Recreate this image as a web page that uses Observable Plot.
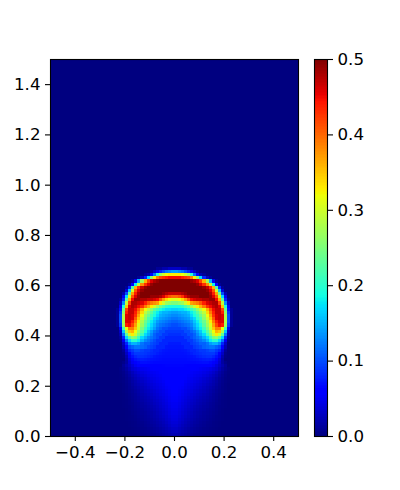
<!DOCTYPE html>
<html><head><meta charset="utf-8">
<script src="https://cdn.jsdelivr.net/npm/d3@7"></script>
<script src="https://cdn.jsdelivr.net/npm/@observablehq/plot@0.6"></script>
<style>
html,body{margin:0;padding:0;background:#fff;width:400px;height:490px;overflow:hidden}
#c{position:relative;width:400px;height:490px}
#c svg{position:absolute;left:0;top:0;background:transparent;overflow:visible}
</style></head><body><div id="c"></div>
<script>
const nx = 80, ny = 120;
const xTicks = [-0.4,-0.2,0,0.2,0.4];
const yTicks = [0,0.2,0.4,0.6,0.8,1.0,1.2,1.4];
const barTicks = [0,0.1,0.2,0.3,0.4,0.5];
// Value x 100, row index (bottom = 0), from the centre column outward (right half)
const rowsTop = [
/*r53*/[3,3,2,2,1,1],
/*r52*/[14,13,12,10,8,5,3,1],
/*r51*/[33,33,32,30,27,20,12,6,2,1],
/*r50*/[45,45,44,43,42,39,33,26,17,8,3,1],
/*r49*/[50,50,50,50,50,49,48,46,42,36,27,15,5,1],
/*r48*/[50,50,50,50,50,50,50,49,46,43,38,29,18,6,1],
/*r47*/[50,50,50,50,50,50,50,50,50,49,47,43,36,22,8,1],
/*r46*/[50,50,50,50,50,50,50,50,50,50,49,46,41,30,16,4],
/*r45*/[47,47,48,49,50,50,50,50,50,50,50,48,44,37,24,10,2],
/*r44*/[40,41,43,46,48,49,49,49,50,50,50,49,46,41,30,17,5],
/*r43*/[31,32,34,37,41,45,46,47,47,48,48,49,49,45,36,23,8,1],
/*r42*/[25,26,27,30,33,37,38,39,41,44,46,47,48,48,42,29,13,3],
/*r41*/[19,19,20,22,24,27,30,33,36,39,43,45,47,48,46,35,19,5],
/*r40*/[16.5,17,17,18,19,21,23,26,29,32,36,41,45,47,47,42,24,7,1],
/*r39*/[14,14.5,15,15,16,18,20,23,26,29,34,39,44,47,47,44,26,9,1],
/*r38*/[13,13.5,14,14.5,15,17,19,21,24,27,32,37,43,46,47,46,28,10,1],
/*r37*/[12,12.5,13,13.5,14,15.5,17,20,22,26,30,35,41,46,47,46,28,10,1],
/*r36*/[11,11.5,12,12.5,13,14,16,18,21,24,28,33,39,44,46,46,28,10,1],
/*r35*/[10,10.5,11,11.5,12,13,15,17,19,23,27,31,37,42,45,44,27,9,1],
/*r34*/[9.5,9.5,10,10,11,12,14,16,18,21,25,30,35,39,39,32,21,5],
/*r33*/[9,9,9,10,10,11,12,14,16,19,23,27,32,36,35,28,16,3],
/*r32*/[8.5,8.5,9,9,10,10,11,13,15,17,21,25,30,33,30,23,12,2],
/*r31*/[8,8,8,9,9,10,11,12,13,15,17,21,25,26,23,17,8,1],
/*r30*/[8,8,8,8,9,9,10,11,12,13,15,18,20,20,17,12,5,.5],
/*r29*/[7.5,7.5,8,8,8,9,9.5,10,11,11,12,14,15,15,13,8,3],
/*r28*/[7.3,7.3,7.4,8,8,8,9,9.5,10,11,11.5,12,12,11,10,6,2],
/*r27*/[7.1,7.1,7.2,7.3,7.6,8,8,8.5,9,9,9.5,10,10,9,8,4,1],
/*r26*/[7,7,7,7.1,7.3,7.6,8,8.2,8.5,8.8,9,9,9,8,6,3,.5],
/*r25*/[6.9,6.9,6.9,6.9,7,7.1,7.3,7.7,8,8.3,8.5,8.5,8,7,5,2,.3],
/*r24*/[6.7,6.7,6.7,6.7,6.8,6.9,7,7.1,7.3,7.5,7.6,7.5,7,6,4,1.5],
/*r23*/[6.6,6.6,6.6,6.6,6.6,6.6,6.6,6.7,6.8,6.9,6.9,6.6,6,5,3.5,1.5,.5],
/*r22*/[6.4,6.4,6.4,6.3,6.2,6.1,6,6,6,5.9,5.8,5.6,5,4,3,2,1],
/*r21*/[6.2,6.2,6.1,6,5.8,5.6,5.5,5.4,5.2,5,4.8,4.5,4,3.5,2.5,1.5,.8,.3],
/*r20*/[6.1,6,5.9,5.8,5.5,5.3,5.1,5,4.8,4.5,4.2,3.8,3.3,2.6,1.8,1.1,.5,.2],
/*r19*/[6,5.9,5.8,5.6,5.3,5.1,4.9,4.7,4.5,4.1,3.8,3.3,2.8,2.2,1.5,.9,.4,.1],
/*r18*/[5.9,5.8,5.6,5.4,5.1,4.9,4.6,4.4,4.1,3.7,3.3,2.9,2.4,1.8,1.2,.7,.3,.1],
/*r17*/[5.8,5.7,5.5,5.2,4.9,4.7,4.4,4.1,3.8,3.4,3,2.6,2.1,1.6,1,.6,.3,.1],
/*r16*/[5.7,5.6,5.4,5,4.7,4.4,4.1,3.8,3.5,3.1,2.7,2.3,1.9,1.4,.9,.5,.2],
/*r15*/[5.6,5.4,5.2,4.8,4.5,4.2,3.9,3.6,3.2,2.8,2.4,2,1.6,1.2,.8,.4,.2],
/*r14*/[5.5,5.3,5,4.6,4.3,4,3.6,3.3,2.9,2.6,2.2,1.8,1.4,1,.7,.4,.2],
/*r13*/[5.4,5.2,4.8,4.4,4.1,3.7,3.4,3,2.7,2.3,2,1.6,1.2,.9,.6,.3,.1],
/*r12*/[5.3,5,4.6,4.2,3.8,3.5,3.1,2.8,2.4,2.1,1.8,1.4,1.1,.8,.5,.3,.1],
/*r11*/[5.2,4.9,4.4,4,3.6,3.2,2.9,2.5,2.2,1.9,1.6,1.3,1,.7,.4,.2,.1],
/*r10*/[5,4.7,4.2,3.8,3.4,3,2.7,2.3,2,1.7,1.4,1.1,.9,.6,.4,.2,.1],
/*r9*/ [4.9,4.5,4,3.6,3.2,2.8,2.4,2.1,1.8,1.5,1.3,1,.8,.5,.3,.2,.1],
/*r8*/ [4.7,4.3,3.8,3.4,3,2.6,2.2,1.9,1.6,1.4,1.1,.9,.7,.5,.3,.1],
/*r7*/ [4.5,4.1,3.6,3.2,2.8,2.4,2,1.7,1.5,1.2,1,.8,.6,.4,.2,.1],
/*r6*/ [4.3,3.9,3.4,3,2.6,2.2,1.9,1.6,1.3,1.1,.9,.7,.5,.3,.2,.1],
/*r5*/ [4.1,3.6,3.2,2.7,2.4,2,1.7,1.4,1.2,1,.8,.6,.4,.3,.2,.1],
/*r4*/ [3.8,3.4,2.9,2.5,2.1,1.8,1.5,1.3,1,.8,.6,.5,.3,.2,.1],
/*r3*/ [3.5,3.1,2.6,2.2,1.9,1.6,1.3,1.1,.9,.7,.5,.4,.3,.2,.1],
/*r2*/ [3.1,2.7,2.3,1.9,1.6,1.3,1.1,.9,.7,.5,.4,.3,.2,.1],
/*r1*/ [2.7,2.3,1.9,1.6,1.3,1.1,.9,.7,.5,.4,.3,.2,.1],
/*r0*/ [2.2,1.9,1.6,1.3,1,.8,.6,.5,.4,.3,.2,.1]
];
const topRow = 53;
const grid = new Float64Array(nx*ny);
rowsTop.forEach((vals,i)=>{
  const r = topRow - i;
  vals.forEach((v,k)=>{
    grid[r*nx + nx/2 + k] = v/100;
    grid[r*nx + nx/2 - 1 - k] = v/100;
  });
});
const barValues = d3.range(256).map(i=>i/255*0.5);

// jet colormap stops
const rS=[[0,0],[.35,0],[.66,1],[.89,1],[1,.5]];
const gS=[[0,0],[.125,0],[.375,1],[.64,1],[.91,0],[1,0]];
const bS=[[0,.5],[.11,1],[.34,1],[.65,0],[1,0]];
const ch=s=>d3.scaleLinear(s.map(d=>d[0]),s.map(d=>d[1])).clamp(true);
const R=ch(rS),G=ch(gS),B=ch(bS);
const jet=t=>`rgb(${Math.round(255*R(t))},${Math.round(255*G(t))},${Math.round(255*B(t))})`;
const colorScale={type:"linear",domain:[0,0.5],interpolate:()=>jet,clamp:true};

const font={fontFamily:"'DejaVu Sans'",fontSize:"16.67px"};
const ink="#000";
const main=Plot.plot({
  width:400,height:490,marginLeft:50,marginRight:102,marginTop:59,marginBottom:54,
  style:{...font,background:"transparent",color:ink},
  x:{domain:[-0.5,0.5]},y:{domain:[0,1.5]},color:colorScale,
  marks:[
    Plot.raster(grid,{width:nx,height:ny,x1:-0.5,x2:0.5,y1:0,y2:1.5,imageRendering:"pixelated"}),
    Plot.frame({stroke:ink,strokeWidth:1.1}),
    Plot.axisX({ticks:xTicks,tickFormat:".1f",tickSize:5,tickPadding:5,strokeWidth:1.1,label:null,stroke:ink,fill:ink,fontSize:16.67}),
    Plot.axisY({ticks:yTicks,tickFormat:".1f",tickSize:5,tickPadding:5,strokeWidth:1.1,label:null,stroke:ink,fill:ink,fontSize:16.67})
  ]
});
const bar=Plot.plot({
  width:400,height:490,marginLeft:314,marginRight:73,marginTop:59,marginBottom:54,
  style:{...font,background:"transparent",color:ink},
  x:{domain:[0,1],axis:null},y:{domain:[0,0.5]},color:colorScale,
  marks:[
    Plot.raster(barValues,{width:1,height:256,x1:0,x2:1,y1:0,y2:0.5,imageRendering:"pixelated"}),
    Plot.frame({stroke:ink,strokeWidth:1.1}),
    Plot.axisY({anchor:"right",ticks:barTicks,tickFormat:".1f",tickSize:5,tickPadding:5,strokeWidth:1.1,label:null,stroke:ink,fill:ink,fontSize:16.67})
  ]
});
const c=document.getElementById("c");c.append(main);c.append(bar);
</script></body></html>
